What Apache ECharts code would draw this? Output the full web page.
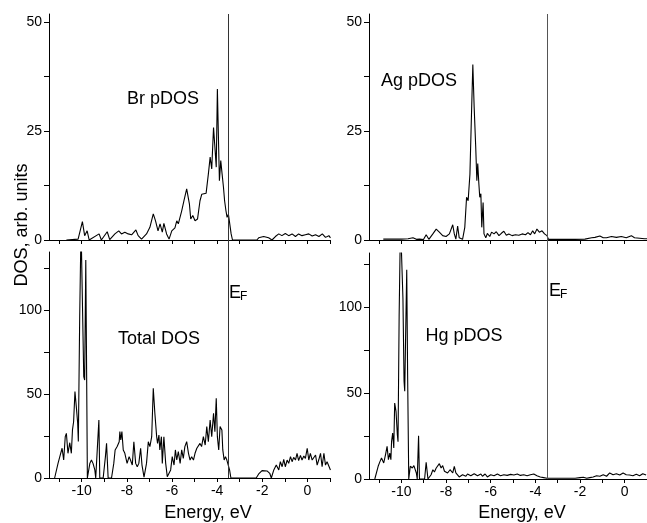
<!DOCTYPE html>
<html><head><meta charset="utf-8">
<script src="https://cdn.jsdelivr.net/npm/echarts@6/dist/echarts.min.js"></script>
<style>html,body{margin:0;padding:0;background:#fff}#c{width:647px;height:523px}</style>
</head><body><div id="c"></div>
<script>
// ---- data: [energy (eV), DOS (arb. units)] ----
const brPdos = [[-10.68,0],[-10.16,0.2],[-9.97,4.2],[-9.87,1.0],[-9.76,2.1],[-9.67,0],[-9.23,1.4],[-9.13,0],[-8.87,1.9],[-8.76,0.1],[-8.53,1.4],[-8.36,2.1],[-8.24,1.4],[-8.09,1.8],[-7.94,1.4],[-7.79,1.2],[-7.60,2.3],[-7.50,1.0],[-7.35,0.2],[-7.13,1.4],[-6.98,2.9],[-6.83,6.0],[-6.73,4.4],[-6.62,2.1],[-6.53,3.7],[-6.43,1.8],[-6.36,3.8],[-6.24,1.4],[-6.13,0.2],[-6.01,2.1],[-5.87,2.8],[-5.79,4.4],[-5.72,3.7],[-5.57,6.7],[-5.47,9.0],[-5.35,11.7],[-5.27,12.1],[-5.23,8.3],[-5.17,4.8],[-5.08,5.6],[-4.98,4.4],[-4.87,4.8],[-4.76,9.0],[-4.68,10.5],[-4.61,10.9],[-4.49,10.7],[-4.39,15.1],[-4.31,19.0],[-4.24,16.3],[-4.16,25.8],[-4.09,20.5],[-4.04,16.7],[-3.99,34.6],[-3.94,22.8],[-3.90,13.6],[-3.84,18.2],[-3.78,15.1],[-3.72,12.1],[-3.67,9.0],[-3.61,6.7],[-3.56,5.2],[-3.50,5.9],[-3.42,2.9],[-3.38,1.4],[-3.32,0],[-2.24,0],[-2.16,0.5],[-1.94,0.8],[-1.72,0.5],[-1.57,0],[-1.42,0.8],[-1.27,1.4],[-1.13,1.0],[-0.98,1.5],[-0.83,1.0],[-0.68,1.4],[-0.53,0.8],[-0.39,1.4],[-0.24,1.0],[-0.09,1.2],[0.06,1.4],[0.21,0.9],[0.36,1.2],[0.51,0.8],[0.66,1.4],[0.80,0.6],[0.95,1.0],[1.02,0.5]];

const agPdos = [[-10.81,0.2],[-10.22,0.2],[-10.00,0.2],[-9.70,0.3],[-9.48,0.5],[-9.33,0.15],[-9.19,0.2],[-9.01,0.1],[-8.89,1.2],[-8.77,0.15],[-8.59,1.4],[-8.44,2.5],[-8.30,1.8],[-8.15,1.0],[-8.00,0.8],[-7.85,1.4],[-7.70,3.5],[-7.63,1.4],[-7.56,0.2],[-7.48,3.2],[-7.41,0.5],[-7.26,0.15],[-7.16,2.9],[-7.08,9.8],[-7.01,9.0],[-6.93,15.1],[-6.86,28.9],[-6.80,40.2],[-6.74,30.4],[-6.67,21.2],[-6.62,13.6],[-6.58,17.5],[-6.53,12.9],[-6.49,9.8],[-6.44,10.6],[-6.40,2.9],[-6.34,8.6],[-6.30,1.4],[-6.22,0.5],[-6.15,1.5],[-6.04,0.8],[-5.96,1.8],[-5.85,1.4],[-5.75,1.9],[-5.63,1.0],[-5.51,1.6],[-5.41,2.0],[-5.30,1.1],[-5.19,1.4],[-5.04,1.0],[-4.89,1.2],[-4.74,1.1],[-4.59,1.4],[-4.44,1.2],[-4.33,1.7],[-4.22,1.2],[-4.12,2.1],[-4.03,1.4],[-3.93,2.5],[-3.82,1.8],[-3.70,2.1],[-3.59,1.4],[-3.48,1.0],[-3.41,0.15],[-2.22,0.15],[-1.78,0.2],[-1.48,0.5],[-1.33,0.6],[-1.11,0.9],[-0.96,0.5],[-0.81,0.5],[-0.59,0.8],[-0.37,0.6],[-0.15,0.8],[0.07,0.5],[0.30,1.0],[0.44,0.5],[0.67,0.4],[0.89,0.3],[1.0,0.3]];

const totalDos = [[-11.20,0],[-11.05,8.7],[-10.95,13.7],[-10.87,17.7],[-10.80,10.7],[-10.73,24.6],[-10.68,26.6],[-10.61,14.7],[-10.53,21.0],[-10.46,14.7],[-10.41,28.6],[-10.36,33.5],[-10.30,51.4],[-10.24,42.5],[-10.18,32.7],[-10.15,21.8],[-10.09,96.0],[-10.03,150],[-9.97,150],[-9.91,60.3],[-9.87,58.3],[-9.82,129.8],[-9.78,56.9],[-9.75,0],[-9.64,8.7],[-9.57,10.7],[-9.50,8.7],[-9.42,4.8],[-9.38,0],[-9.30,0],[-9.24,34.5],[-9.20,0],[-9.05,0],[-8.95,12.7],[-8.90,20.6],[-8.83,0],[-8.68,0],[-8.58,8.7],[-8.52,16.7],[-8.43,18.7],[-8.34,21.6],[-8.31,27.6],[-8.27,22.6],[-8.22,27.6],[-8.16,16.7],[-8.09,14.7],[-7.99,8.7],[-7.90,12.7],[-7.84,10.7],[-7.76,7.7],[-7.69,21.6],[-7.61,8.7],[-7.54,6.7],[-7.47,8.7],[-7.39,17.7],[-7.33,7.7],[-7.24,0.5],[-7.13,8.7],[-7.05,21.6],[-6.98,18.7],[-6.90,24.6],[-6.83,53.4],[-6.76,38.5],[-6.68,24.6],[-6.64,20.6],[-6.58,25.6],[-6.54,16.7],[-6.47,24.6],[-6.43,8.7],[-6.36,24.6],[-6.28,8.7],[-6.21,0.8],[-6.15,0],[-6.06,4.8],[-5.99,12.7],[-5.91,7.7],[-5.85,16.7],[-5.79,10.7],[-5.72,15.7],[-5.64,8.7],[-5.57,16.7],[-5.50,11.7],[-5.43,18.7],[-5.35,21.6],[-5.27,14.7],[-5.20,10.7],[-5.13,12.7],[-5.05,10.7],[-4.98,14.7],[-4.90,17.7],[-4.83,18.7],[-4.76,20.6],[-4.69,18.7],[-4.61,24.6],[-4.53,19.6],[-4.46,30.6],[-4.39,21.6],[-4.31,34.5],[-4.24,24.6],[-4.16,38.5],[-4.10,27.6],[-4.04,47.4],[-3.99,24.6],[-3.93,16.7],[-3.87,30.6],[-3.79,28.6],[-3.75,16.7],[-3.69,10.7],[-3.63,12.7],[-3.57,10.7],[-3.50,10.7],[-3.45,4.8],[-3.39,0],[-2.27,0],[-2.16,2.4],[-2.01,4.4],[-1.79,4.2],[-1.67,2.8],[-1.60,0],[-1.49,4.8],[-1.38,7.7],[-1.27,4.8],[-1.20,9.7],[-1.12,6.7],[-1.05,11.1],[-0.98,6.7],[-0.90,10.7],[-0.83,8.7],[-0.75,12.7],[-0.68,9.7],[-0.61,12.3],[-0.53,10.7],[-0.46,14.7],[-0.39,10.3],[-0.31,13.5],[-0.24,10.7],[-0.16,13.1],[-0.09,11.7],[-0.01,17.7],[0.06,10.7],[0.13,14.7],[0.21,10.7],[0.28,9.7],[0.36,13.7],[0.43,7.7],[0.50,10.7],[0.58,14.7],[0.65,6.7],[0.73,14.7],[0.80,7.7],[0.87,9.7],[0.95,8.7],[1.02,4.8]];

const hgPdos = [[-11.19,0],[-11.04,7.4],[-10.96,10.1],[-10.89,12.2],[-10.79,9.3],[-10.71,14.2],[-10.64,19.0],[-10.58,11.2],[-10.52,15.1],[-10.47,11.2],[-10.44,21.7],[-10.39,26.7],[-10.34,18.0],[-10.30,44.2],[-10.24,39.3],[-10.18,25.8],[-10.15,21.7],[-10.10,95],[-10.04,150],[-9.97,150],[-9.93,105],[-9.88,56.8],[-9.85,51],[-9.82,75],[-9.76,121.7],[-9.72,60],[-9.67,0],[-9.60,7.4],[-9.51,6.4],[-9.44,7.8],[-9.33,3.5],[-9.29,0],[-9.23,25.2],[-9.19,0],[-8.96,0],[-8.89,9.7],[-8.81,0],[-8.67,2.5],[-8.59,5.4],[-8.52,4.1],[-8.44,6.4],[-8.37,5.4],[-8.30,8.9],[-8.22,6.4],[-8.15,7.8],[-8.07,4.5],[-8.00,5.4],[-7.93,3.5],[-7.82,5.4],[-7.70,3.5],[-7.63,7.4],[-7.56,3.5],[-7.48,2.5],[-7.41,1.2],[-7.26,2.5],[-7.11,1.6],[-7.04,2.9],[-6.89,1.9],[-6.74,3.1],[-6.59,1.9],[-6.44,2.9],[-6.37,1.6],[-6.25,2.9],[-6.15,1.2],[-6.00,2.5],[-5.85,1.9],[-5.70,2.9],[-5.56,1.9],[-5.41,2.5],[-5.26,2.1],[-5.11,2.7],[-4.96,2.3],[-4.81,2.9],[-4.67,2.1],[-4.52,2.5],[-4.37,1.9],[-4.22,2.5],[-4.07,2.9],[-3.93,1.9],[-3.78,1.2],[-3.63,0.8],[-3.48,0.4],[-2.22,0.4],[-2.00,0.8],[-1.85,1.0],[-1.70,0.4],[-1.56,0.8],[-1.41,1.2],[-1.26,1.9],[-1.11,1.6],[-0.96,2.5],[-0.81,1.6],[-0.67,3.5],[-0.52,2.5],[-0.37,3.1],[-0.22,2.3],[-0.07,3.5],[0.07,2.5],[0.22,2.3],[0.37,1.9],[0.52,2.7],[0.67,1.9],[0.81,3.1],[0.96,2.3]];

const fermiEnergy = -3.5;
const xTickValues = [-11,-10,-9,-8,-7,-6,-5,-4,-3,-2,-1,0,1];
const xLabelValues = [-10,-8,-6,-4,-2,0];
const topTickValues = [0,12.5,25,37.5,50];
const topLabelValues = [0,25,50];
const bottomTickValues = [0,25,50,75,100,125];
const bottomLabelValues = [0,50,100];
const panelNames = ['Br pDOS','Ag pDOS','Total DOS','Hg pDOS'];

// ---- chart ----
const FONT = '"Liberation Sans", Arial, Helvetica, sans-serif';
const X_MIN = -11.45, X_MAX = 1.0;
const TOP_MAX = 51.8;
const chart = echarts.init(document.getElementById('c'), null, {renderer:'canvas'});

function xAxis(g, labels) {
  return {
    type:'value', gridIndex:g, min:X_MIN, max:X_MAX,
    axisLine:{show:true, onZero:false, lineStyle:{color:'#000', width:1}},
    axisTick:{show:true, inside:false, length:4, customValues:xTickValues, lineStyle:{color:'#000'}},
    axisLabel:{show:labels, customValues:xLabelValues, margin:6, fontSize:14, color:'#000', fontFamily:FONT},
    splitLine:{show:false}
  };
}
function yAxis(g, max, ticks, labels) {
  return {
    type:'value', gridIndex:g, min:0, max:max,
    axisLine:{show:true, onZero:false, lineStyle:{color:'#000', width:1}},
    axisTick:{show:true, inside:false, length:5, customValues:ticks, lineStyle:{color:'#000'}},
    axisLabel:{show:true, customValues:labels, margin:7, fontSize:14, color:'#000', fontFamily:FONT},
    splitLine:{show:false}
  };
}
function series(i, data) {
  return {type:'line', xAxisIndex:i, yAxisIndex:i, data:data, showSymbol:false, symbol:'none',
    lineStyle:{color:'#000', width:1.1}, clip:true, animation:false};
}
function txt(id, x, y, text, size, align) {
  return {type:'text', id:id, x:x, y:y, silent:true,
    style:{text:text, fontSize:size, fontFamily:FONT, fill:'#000', align:align||'center', verticalAlign:'middle'}};
}

chart.setOption({
  animation:false,
  backgroundColor:'#fff',
  grid:[
    {left:49, top:14, width:281, height:226},
    {left:369, top:14, width:281, height:226},
    {left:49, top:252, width:281, height:226},
    {left:369, top:253, width:281, height:226}
  ],
  xAxis:[xAxis(0,false), xAxis(1,false), xAxis(2,true), xAxis(3,true)],
  yAxis:[
    yAxis(0, TOP_MAX, topTickValues, topLabelValues),
    yAxis(1, TOP_MAX, topTickValues, topLabelValues),
    yAxis(2, 134.5, bottomTickValues, bottomLabelValues),
    yAxis(3, 131.4, bottomTickValues, bottomLabelValues)
  ],
  series:[series(0, brPdos), series(1, agPdos), series(2, totalDos), series(3, hgPdos)],
  graphic:[
    txt('t0', 163, 99, panelNames[0], 18),
    txt('t1', 419, 81, panelNames[1], 18),
    txt('t2', 159, 339, panelNames[2], 18),
    txt('t3', 464, 336, panelNames[3], 18),
    txt('e1', 229, 293, 'E', 18, 'left'),
    txt('f1', 240, 297, 'F', 12, 'left'),
    txt('e2', 549, 291, 'E', 18, 'left'),
    txt('f2', 560, 295, 'F', 12, 'left'),
    txt('xn1', 208, 513, 'Energy, eV', 18),
    txt('xn2', 522, 513, 'Energy, eV', 18),
    {type:'text', id:'yn', x:22, y:225, rotation:Math.PI/2, silent:true,
      style:{text:'DOS, arb. units', fontSize:18, fontFamily:FONT, fill:'#000', align:'center', verticalAlign:'middle'}}
  ]
});

// Fermi level lines, positioned through the axes' scales
const lines = [];
[[0,2,'#333'],[1,3,'#555']].forEach(function(p, k){
  const a = chart.convertToPixel({xAxisIndex:p[0], yAxisIndex:p[0]}, [fermiEnergy, TOP_MAX]);
  const b = chart.convertToPixel({xAxisIndex:p[1], yAxisIndex:p[1]}, [fermiEnergy, 0]);
  lines.push({type:'line', id:'ef'+k, silent:true, z:5,
    shape:{x1:Math.round(a[0])+0.5, y1:a[1], x2:Math.round(b[0])+0.5, y2:b[1]},
    style:{stroke:p[2], lineWidth:1}});
});
chart.setOption({graphic:lines});
</script></body></html>
